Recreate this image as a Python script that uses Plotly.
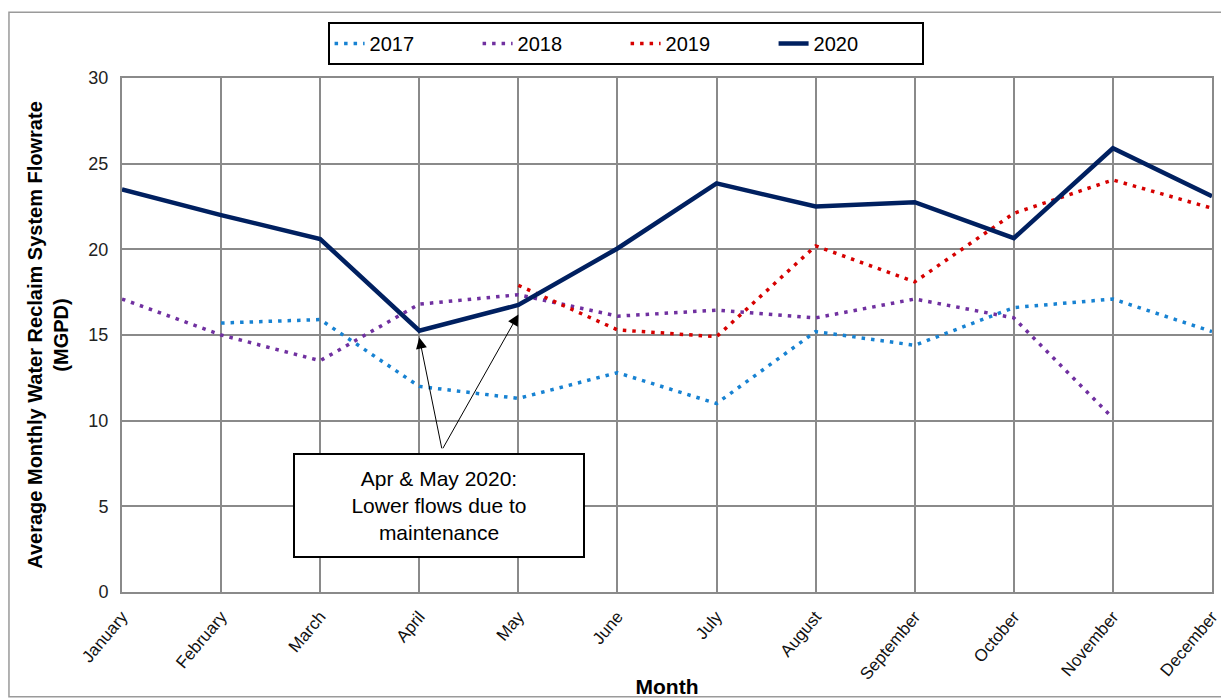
import plotly.graph_objects as go

months = ["January", "February", "March", "April", "May", "June", "July",
          "August", "September", "October", "November", "December"]

flow_2017 = [None, 15.7, 15.9, 12.0, 11.3, 12.8, 11.0, 15.2, 14.4, 16.6, 17.1, 15.2]
flow_2018 = [17.1, 15.0, 13.5, 16.8, 17.35, 16.1, 16.45, 16.0, 17.1, 16.0, 10.15, None]
flow_2019 = [None, None, None, None, 17.9, 15.3, 14.9, 20.2, 18.1, 22.1, 24.05, 22.4]
flow_2020 = [23.5, 22.0, 20.6, 15.25, 16.75, 20.05, 23.85, 22.5, 22.75, 20.65, 25.9, 23.1]

series = [
    ("2017", flow_2017, "#1782D2", 3.5, "3.5px,6px"),
    ("2018", flow_2018, "#7030A0", 3.5, "3.5px,6px"),
    ("2019", flow_2019, "#D60000", 3.5, "3.5px,6px"),
    ("2020", flow_2020, "#002060", 4.5, "solid"),
]

FONT = "Liberation Sans, Arial, sans-serif"

fig = go.Figure()
for name, vals, color, width, dash in series:
    fig.add_trace(go.Scatter(
        x=months, y=vals, name=name, mode="lines",
        line=dict(color=color, width=width, dash=dash),
        connectgaps=False,
    ))

grid = "#8a8a8a"
fig.update_layout(
    width=1221, height=690,
    margin=dict(l=114, r=17, t=70, b=106, autoexpand=False),
    paper_bgcolor="white", plot_bgcolor="white",
    font=dict(family=FONT, color="#000000", size=16),
    showlegend=True,
    legend=dict(
        orientation="h", x=0.462, y=1.067, xanchor="center", yanchor="middle",
        bordercolor="#000000", borderwidth=2, bgcolor="white",
        font=dict(family=FONT, size=20, color="#000000"),
        entrywidth=103, entrywidthmode="pixels", traceorder="normal",
    ),
    xaxis=dict(
        type="category", range=[0, 11], automargin=False,
        showgrid=True, gridcolor=grid, gridwidth=2,
        showline=True, linecolor=grid, linewidth=2, mirror=True,
        tickangle=-50, tickfont=dict(family=FONT, size=17, color="#111"),
        ticks="outside", ticklen=6, tickcolor="rgba(0,0,0,0)", zeroline=False,
        title=dict(text="<b>Month</b>", font=dict(family=FONT, size=21), standoff=0),
    ),
    yaxis=dict(
        range=[0, 30], dtick=5, automargin=False,
        showgrid=True, gridcolor=grid, gridwidth=2,
        showline=True, linecolor=grid, linewidth=2, mirror=True,
        tickfont=dict(family=FONT, size=18, color="#222"),
        ticks="outside", ticklen=8, tickcolor="rgba(0,0,0,0)", zeroline=False,
        title=dict(text="<b>Average Monthly Water Reclaim System Flowrate<br>(MGPD)</b>",
                   font=dict(family=FONT, size=20), standoff=14),
    ),
)

# Outer chart border
fig.add_shape(type="rect", xref="paper", yref="paper",
              x0=-0.1037, x1=1.0147, y0=-0.204, y1=1.128,
              line=dict(color="#9a9a9a", width=1.5), fillcolor="rgba(0,0,0,0)", layer="below")

# Arrows
for hx, hy in [(3, 14.85), (4, 16.2)]:
    fig.add_annotation(x=hx, y=hy, ax=3.23, ay=8.3, xref="x", yref="y", axref="x", ayref="y",
                       text="", showarrow=True, arrowhead=2, arrowsize=2.2, arrowwidth=1,
                       arrowcolor="#000000")

# Text box
fig.add_annotation(x=3.2, y=5.05, xref="x", yref="y",
                   text="Apr & May 2020:<br>Lower flows due to<br>maintenance",
                   showarrow=False, align="center",
                   font=dict(family=FONT, size=21, color="#000000"),
                   bordercolor="#000000", borderwidth=2, bgcolor="white",
                   width=286, height=99)

fig.write_html("out.html")
